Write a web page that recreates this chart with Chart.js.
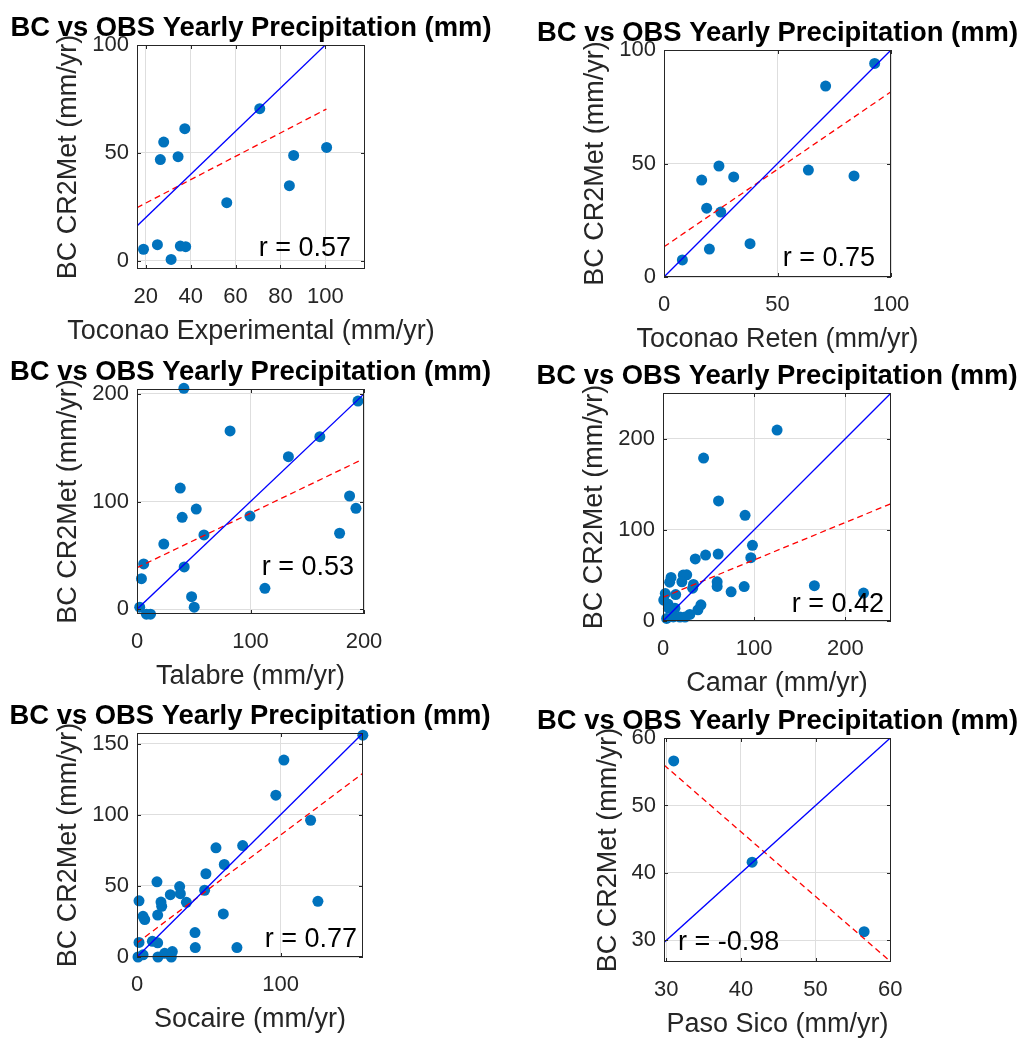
<!DOCTYPE html>
<html>
<head>
<meta charset="utf-8">
<title>BC vs OBS Yearly Precipitation</title>
<script src="https://cdn.jsdelivr.net/npm/chart.js@4.4.1/dist/chart.umd.min.js"></script>
<style>
  html, body { margin: 0; padding: 0; background: #fff; }
  #figure { position: relative; width: 1021px; height: 1038px; overflow: hidden; background: #fff; }
  #figure canvas { position: absolute; }
</style>
</head>
<body>
<div id="figure"></div>
<script>
// ---- data ----
const stations = ['Toconao Experimental', 'Toconao Reten', 'Talabre', 'Camar', 'Socaire', 'Paso Sico'];
const rValues = [0.57, 0.75, 0.53, 0.42, 0.77, -0.98];

// Toconao Experimental
const tocExpObs = [70.8, 37.4, 28.0, 26.5, 34.4, 100.6, 85.9, 84.0, 56.1, 19.0, 25.2, 35.4, 37.8, 31.3];
const tocExpBc  = [70.5, 61.2, 55.0, 46.9, 48.2, 52.5, 48.8, 34.8, 26.9, 5.3, 7.4, 6.8, 6.5, 0.6];
const tocExpFitX = [16.1, 100.5];
const tocExpFitY = [24.6, 70.3];
const tocExpOneToOne = [16.1, 100.6];
const tocExpXTicks = [20, 40, 60, 80, 100];
const tocExpYTicks = [0, 50, 100];

// Toconao Reten
const tocRetObs = [92.8, 71.2, 24.2, 16.6, 30.7, 63.6, 83.7, 18.8, 25.0, 20.0, 37.9, 8.1];
const tocRetBc  = [94.1, 84.1, 48.9, 42.7, 44.1, 47.1, 44.5, 30.3, 28.6, 12.3, 14.7, 7.5];
const tocRetFitX = [0, 100];
const tocRetFitY = [13.3, 81.6];
const tocRetOneToOne = [0, 100];
const tocRetXTicks = [0, 50, 100];
const tocRetYTicks = [0, 50, 100];

// Talabre
const talObs = [41.3, 82.0, 133.4, 161.1, 194.7, 38.1, 52.2, 39.8, 99.5, 59.0, 23.6, 187.3, 192.9, 178.5, 5.9, 3.9, 41.6, 112.7, 48.1, 50.4, 2.4, 8.3, 11.9];
const talBc  = [205.2, 165.6, 141.7, 160.3, 193.4, 112.6, 93.1, 85.4, 86.6, 69.0, 60.6, 105.2, 93.8, 70.6, 42.1, 28.4, 39.3, 19.5, 11.7, 1.9, 1.9, -4.6, -4.6];
const talFitX = [0, 197];
const talFitY = [38.6, 138.4];
const talOneToOne = [0, 200];
const talXTicks = [0, 100, 200];
const talYTicks = [0, 100, 200];

// Camar
const camObs = [125.1, 44.5, 60.9, 90.0, 98.1, 96.3, 60.5, 46.7, 35.4, 166.0, 219.9, 89.0, 74.7, 59.4, 59.4, 33.4, 32.5, 26.0, 22.2, 20.7, 8.8, 7.3, 2.5, 13.9, 5.5, 41.6, 38.3, 29.4, 24.1, 18.6, 11.3, 4.0, 0.8, 6.0, 13.1];
const camBc  = [209.3, 178.6, 131.6, 115.9, 83.0, 69.4, 73.4, 72.3, 68.0, 38.7, 30.6, 37.7, 32.0, 43.0, 37.9, 40.1, 36.0, 50.6, 50.4, 43.0, 47.8, 42.6, 30.1, 29.0, 18.6, 17.8, 12.2, 7.2, 4.3, 4.3, 4.5, 2.8, 23.0, 14.0, 14.0];
const camFitX = [0, 250];
const camFitY = [26.0, 128.6];
const camOneToOne = [0, 250];
const camXTicks = [0, 100, 200];
const camYTicks = [0, 100, 200];

// Socaire
const socObs = [157.3, 102.3, 96.7, 120.9, 126.0, 55.0, 73.6, 60.8, 48.0, 47.1, 13.9, 29.7, 30.2, 23.2, 34.4, 16.7, 17.2, 1.4, 14.4, 4.2, 5.4, 60.1, 40.4, 40.6, 69.6, 10.7, 14.4, 1.4, 0.7, 14.6, 19.3, 24.6, 23.9, 4.2];
const socBc  = [155.9, 138.4, 113.7, 96.1, 39.1, 76.7, 78.3, 65.0, 58.5, 46.9, 52.8, 49.5, 44.5, 43.8, 38.4, 38.6, 35.6, 39.5, 29.5, 28.6, 26.3, 30.3, 17.2, 6.6, 6.6, 11.0, 10.0, 10.2, 0, 0, 2.6, 3.8, 0, 1.5];
const socFitX = [0, 157.3];
const socFitY = [9.9, 129.1];
const socOneToOne = [0, 157.4];
const socXTicks = [0, 100];
const socYTicks = [0, 50, 100, 150];

// Paso Sico
const sicoObs = [31.0, 41.5, 56.5];
const sicoBc  = [56.6, 41.6, 31.3];
const sicoFitX = [29.7, 60.1];
const sicoFitY = [56.0, 26.8];
const sicoOneToOne = [29.7, 60.1];
const sicoXTicks = [30, 40, 50, 60];
const sicoYTicks = [30, 40, 50, 60];

const titleText = 'BC vs OBS Yearly Precipitation (mm)';
const yLabelText = 'BC CR2Met (mm/yr)';

// ---- look ----
const FONT = 'Arial, "Liberation Sans", Helvetica, sans-serif';
const AXIS_GREY = '#262626';
const GRID_GREY = '#dedede';
const MARKER_BLUE = '#0072BD';
const Y_AXIS_W = 60;
const X_AXIS_H = 40;

Chart.defaults.font.family = FONT;

// canvas box [left, top, width, height] and plot area [L, T, R, B] in page pixels
const panels = [
  { obs: tocExpObs, bc: tocExpBc, fitX: tocExpFitX, fitY: tocExpFitY, one: tocExpOneToOne, xTicks: tocExpXTicks, yTicks: tocExpYTicks,
    xRange: [16.1, 117.7], yRange: [-3.85, 100], canvasBox: [0, 0, 525, 365], area: [137, 45, 365, 269],
    r: { align: 'right', dx: 14, dy: 13 }, yLabelGap: 61 },
  { obs: tocRetObs, bc: tocRetBc, fitX: tocRetFitX, fitY: tocRetFitY, one: tocRetOneToOne, xTicks: tocRetXTicks, yTicks: tocRetYTicks,
    xRange: [0, 100], yRange: [0, 100], canvasBox: [515, 0, 506, 365], area: [664, 50, 891, 277],
    r: { align: 'right', dx: 16, dy: 11 }, yLabelGap: 61 },
  { obs: talObs, bc: talBc, fitX: talFitX, fitY: talFitY, one: talOneToOne, xTicks: talXTicks, yTicks: talYTicks,
    xRange: [0, 200], yRange: [-4.4, 204.6], canvasBox: [0, 330, 525, 380], area: [137, 389, 364, 614],
    r: { align: 'right', dx: 10, dy: 39 }, yLabelGap: 61 },
  { obs: camObs, bc: camBc, fitX: camFitX, fitY: camFitY, one: camOneToOne, xTicks: camXTicks, yTicks: camYTicks,
    xRange: [0, 250], yRange: [0, 250], canvasBox: [515, 330, 506, 380], area: [663, 393, 891, 621],
    r: { align: 'right', dx: 7, dy: 9 }, yLabelGap: 61 },
  { obs: socObs, bc: socBc, fitX: socFitX, fitY: socFitY, one: socOneToOne, xTicks: socXTicks, yTicks: socYTicks,
    xRange: [0, 157.4], yRange: [0, 157.4], canvasBox: [0, 675, 525, 363], area: [137, 733, 363, 957],
    r: { align: 'right', dx: 6, dy: 10 }, yLabelGap: 61 },
  { obs: sicoObs, bc: sicoBc, fitX: sicoFitX, fitY: sicoFitY, one: sicoOneToOne, xTicks: sicoXTicks, yTicks: sicoYTicks,
    xRange: [29.7, 60.1], yRange: [26.8, 60], canvasBox: [515, 675, 506, 363], area: [664, 738, 891, 962],
    r: { align: 'left', dx: 14, dy: 12 }, yLabelGap: 48 }
];

function pairs(xs, ys) {
  return xs.map((x, i) => ({ x: x, y: ys[i] }));
}

function noScalePadding(s) {
  s.paddingLeft = 0;
  s.paddingRight = 0;
  s.paddingTop = 0;
  s.paddingBottom = 0;
}

// box, inward ticks, title, axis labels and r annotation
const panelDecor = {
  id: 'panelDecor',
  afterDatasetsDraw(chart, args, opts) {
    const { ctx, chartArea: a, scales: { x, y } } = chart;
    const cxm = (a.left + a.right) / 2;
    const cym = (a.top + a.bottom) / 2;
    ctx.save();

    ctx.strokeStyle = AXIS_GREY;
    ctx.lineWidth = 1;
    ctx.beginPath();
    x.ticks.forEach(t => {
      const px = Math.round(x.getPixelForValue(t.value)) + 0.5;
      ctx.moveTo(px, a.bottom); ctx.lineTo(px, a.bottom - 4);
      ctx.moveTo(px, a.top); ctx.lineTo(px, a.top + 4);
    });
    y.ticks.forEach(t => {
      const py = Math.round(y.getPixelForValue(t.value)) + 0.5;
      ctx.moveTo(a.left, py); ctx.lineTo(a.left + 4, py);
      ctx.moveTo(a.right, py); ctx.lineTo(a.right - 4, py);
    });
    ctx.stroke();
    ctx.strokeRect(a.left + 0.5, a.top + 0.5, a.right - a.left - 1, a.bottom - a.top - 1);

    // title
    ctx.fillStyle = '#000';
    ctx.font = 'bold 27.4px ' + FONT;
    ctx.textAlign = 'center';
    ctx.textBaseline = 'alphabetic';
    ctx.fillText(opts.title, cxm, a.top - 9);

    // x label
    ctx.fillStyle = AXIS_GREY;
    ctx.font = '27px ' + FONT;
    ctx.fillText(opts.xLabel, cxm, a.bottom + 70);

    // y label
    ctx.save();
    ctx.translate(a.left - opts.yLabelGap, cym);
    ctx.rotate(-Math.PI / 2);
    ctx.fillText(opts.yLabel, 0, 0);
    ctx.restore();

    // r annotation
    ctx.fillStyle = '#000';
    ctx.font = '27px ' + FONT;
    ctx.textAlign = opts.r.align;
    const rx = opts.r.align === 'right' ? a.right - opts.r.dx : a.left + opts.r.dx;
    ctx.fillText(opts.rText, rx, a.bottom - opts.r.dy);

    ctx.restore();
  }
};

function makePanel(p, i) {
  const figure = document.getElementById('figure');
  const canvas = document.createElement('canvas');
  const [cx, cy, cw, ch] = p.canvasBox;
  const [L, T, R, B] = p.area;
  canvas.width = cw;
  canvas.height = ch;
  canvas.style.left = cx + 'px';
  canvas.style.top = cy + 'px';
  canvas.style.width = cw + 'px';
  canvas.style.height = ch + 'px';
  figure.appendChild(canvas);

  const tickFont = { size: 22 };

  new Chart(canvas, {
    type: 'scatter',
    data: {
      datasets: [
        { data: pairs(p.one, p.one), showLine: true, borderColor: '#0000FF', borderWidth: 1.3, pointRadius: 0, clip: 0 },
        { data: pairs(p.fitX, p.fitY), showLine: true, borderColor: '#FF0000', borderWidth: 1.3, borderDash: [6, 4], pointRadius: 0, clip: 0 },
        { data: pairs(p.obs, p.bc), backgroundColor: MARKER_BLUE, borderWidth: 0, pointRadius: 5.5, clip: false }
      ]
    },
    options: {
      responsive: false,
      animation: false,
      events: [],
      layout: {
        padding: { left: L - cx - Y_AXIS_W, top: T - cy, right: cx + cw - R, bottom: cy + ch - B - X_AXIS_H }
      },
      plugins: {
        legend: { display: false },
        tooltip: { enabled: false },
        panelDecor: {
          title: titleText,
          xLabel: stations[i] + ' (mm/yr)',
          yLabel: yLabelText,
          rText: 'r = ' + rValues[i].toFixed(2),
          r: p.r,
          yLabelGap: p.yLabelGap
        }
      },
      scales: {
        x: {
          type: 'linear',
          min: p.xRange[0],
          max: p.xRange[1],
          afterBuildTicks: s => { s.ticks = p.xTicks.map(v => ({ value: v })); },
          afterFit: s => { s.height = X_AXIS_H; noScalePadding(s); },
          grid: { color: GRID_GREY, lineWidth: 1, drawTicks: false },
          border: { display: false },
          ticks: { padding: 15, color: AXIS_GREY, font: tickFont, autoSkip: false, maxRotation: 0, callback: v => String(v) }
        },
        y: {
          type: 'linear',
          min: p.yRange[0],
          max: p.yRange[1],
          afterBuildTicks: s => { s.ticks = p.yTicks.map(v => ({ value: v })); },
          afterFit: s => { s.width = Y_AXIS_W; noScalePadding(s); },
          grid: { color: GRID_GREY, lineWidth: 1, drawTicks: false },
          border: { display: false },
          ticks: { padding: 8, color: AXIS_GREY, font: tickFont, autoSkip: false, callback: v => String(v) }
        }
      }
    },
    plugins: [panelDecor]
  });
}

document.addEventListener('DOMContentLoaded', function() {
  panels.forEach(makePanel);
});
</script>
</body>
</html>
